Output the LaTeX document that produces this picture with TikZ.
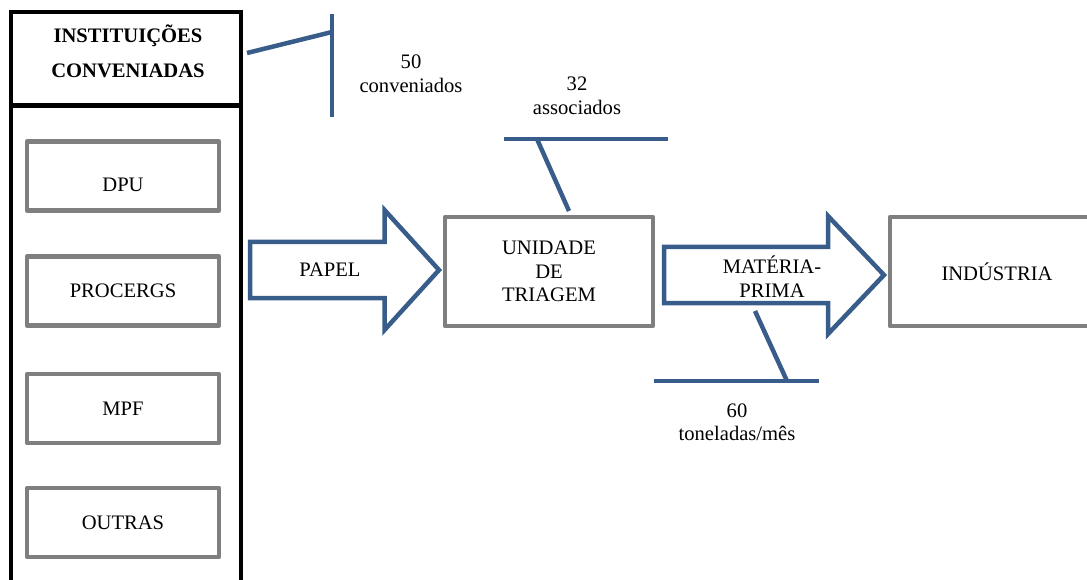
\documentclass[tikz,border=0pt]{standalone}
\usepackage{fontspec}
\setmainfont{Liberation Serif}
\usepackage{xcolor}
\usepackage{tikz}
\definecolor{barblue}{HTML}{385D8A}
\definecolor{boxgray}{HTML}{7F7F7F}

\begin{document}
\begin{tikzpicture}[x=1pt,y=-1pt,
    txt/.style={font=\fontsize{20.6}{23.5}\selectfont,align=center,inner sep=0pt},
    frame/.style={draw=black,line width=4.5pt,inner sep=0pt,outer sep=0pt},
    gbox/.style={draw=boxgray,line width=4.5pt,line join=round,inner sep=0pt,outer sep=0pt,
        font=\fontsize{20.6}{23.5}\selectfont,align=center},
    bar/.style={draw=barblue,line width=4.5pt},
    blockarrow/.style={draw=barblue,line width=4.5pt,line join=miter}]
    \useasboundingbox (0,0) rectangle (1087,580);
    % left column
    \node[frame,minimum width=230pt,minimum height=93.5pt] (instbox) at (126,58.75){};
    \node[frame,anchor=north,minimum width=230pt,minimum height=500pt] (instcol) at (instbox.south){};
    \node[txt,font=\fontsize{20.6}{35}\selectfont\bfseries] (insttxt) at (128,51){INSTITUIÇÕES\\CONVENIADAS};
    \node[gbox,minimum width=192pt,minimum height=69pt,text height=32pt] (dpu) at (123,176){DPU};
    \node[gbox,minimum width=192pt,minimum height=69pt] (procergs) at (123,291){PROCERGS};
    \node[gbox,minimum width=192pt,minimum height=69pt] (mpf) at (123,408.5){MPF};
    \node[gbox,minimum width=192pt,minimum height=69pt] (outras) at (123,522.5){OUTRAS};
    % flow
    \node[gbox,minimum width=208pt,minimum height=109pt] (triagem) at (549,271.5){UNIDADE\\DE\\TRIAGEM};
    \node[gbox,minimum width=214pt,minimum height=109pt] (industria) at (997,271.5){INDÚSTRIA};
    \draw[blockarrow] (250,242) -- (384.5,242) -- (384.5,210) -- (439,270)
        -- (384.5,330) -- (384.5,298) -- (250,298) -- cycle;
    \node[txt] (papel) at (330,270){PAPEL};
    \draw[blockarrow] (664,247) -- (828,247) -- (828,216) -- (884,275)
        -- (828,334) -- (828,303) -- (664,303) -- cycle;
    \node[txt] (materia) at (772,276.5){MATÉRIA-\\PRIMA};
    % callouts
    \coordinate (c50a) at (332,14);
    \coordinate (c50b) at (332,117);
    \coordinate (c50j) at (332,32);
    \coordinate (c50s) at (247,53);
    \path[bar] (c50a) edge (c50b);
    \path[bar] (c50s) edge (c50j);
    \node[txt] (conv) at (411,74){50\\conveniados};
    \coordinate (c32a) at (504,139);
    \coordinate (c32b) at (668,139);
    \coordinate (c32j) at (537,139);
    \path[bar] (c32a) edge (c32b);
    \path[bar] (triagem.north) ++(20,-6) coordinate (c32s) edge (c32j);
    \node[txt] (assoc) at (577,96){32\\associados};
    \coordinate (c60a) at (654,381);
    \coordinate (c60b) at (819,381);
    \coordinate (c60j) at (787,381);
    \coordinate (c60s) at (755,311);
    \path[bar] (c60a) edge (c60b);
    \path[bar] (c60s) edge (c60j);
    \node[txt] (ton) at (737,422){60\\toneladas/mês};
\end{tikzpicture}
\end{document}
